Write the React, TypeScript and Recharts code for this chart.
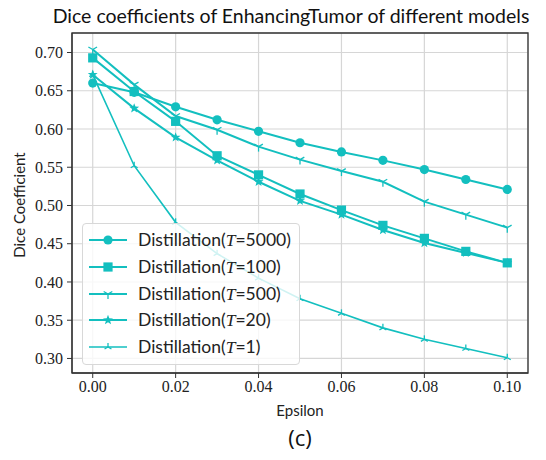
import { LineChart, Line, XAxis, YAxis, CartesianGrid, Legend, ReferenceArea } from 'recharts';

// epsilon values on the x axis
const epsilon = [0, 0.01, 0.02, 0.03, 0.04, 0.05, 0.06, 0.07, 0.08, 0.09, 0.1];

// dice coefficient for each distillation temperature
const t5000 = [0.660, 0.648, 0.629, 0.612, 0.597, 0.582, 0.570, 0.559, 0.547, 0.534, 0.521];
const t100 = [0.693, 0.649, 0.610, 0.565, 0.540, 0.515, 0.494, 0.474, 0.457, 0.440, 0.425];
const t500 = [0.704, 0.658, 0.617, 0.599, 0.577, 0.560, 0.545, 0.531, 0.505, 0.488, 0.471];
const t20 = [0.671, 0.627, 0.589, 0.559, 0.531, 0.506, 0.488, 0.468, 0.451, 0.438, 0.425];
const t1 = [0.671, 0.552, 0.478, 0.437, 0.405, 0.378, 0.359, 0.340, 0.325, 0.313, 0.301];

const xTicks = [0, 0.02, 0.04, 0.06, 0.08, 0.1];
const yTicks = [0.3, 0.35, 0.4, 0.45, 0.5, 0.55, 0.6, 0.65, 0.7];

const COLOR = '#13bfbf';

type Kind = 'circle' | 'square' | 'tri_down' | 'star' | 'tri_up';

const series: { key: string; temp: string; kind: Kind; values: number[]; width: number }[] = [
  { key: 't5000', temp: '5000', kind: 'circle', values: t5000, width: 2 },
  { key: 't100', temp: '100', kind: 'square', values: t100, width: 2 },
  { key: 't500', temp: '500', kind: 'tri_down', values: t500, width: 2 },
  { key: 't20', temp: '20', kind: 'star', values: t20, width: 2 },
  { key: 't1', temp: '1', kind: 'tri_up', values: t1, width: 1.6 },
];

const data = epsilon.map((e, i) => {
  const row: Record<string, number> = { eps: e };
  series.forEach((s) => (row[s.key] = s.values[i]));
  return row;
});

function Marker({ x, y, kind }: { x: number; y: number; kind: Kind }) {
  if (kind === 'circle') return <circle cx={x} cy={y} r={4.6} fill={COLOR} />;
  if (kind === 'square') return <rect x={x - 4.6} y={y - 4.6} width={9.2} height={9.2} fill={COLOR} />;
  if (kind === 'star') {
    const pts: string[] = [];
    for (let k = 0; k < 10; k++) {
      const r = k % 2 === 0 ? 5.2 : 2.2;
      const a = -Math.PI / 2 + (k * Math.PI) / 5;
      pts.push(`${x + r * Math.cos(a)},${y + r * Math.sin(a)}`);
    }
    return <polygon points={pts.join(' ')} fill={COLOR} />;
  }
  const s = kind === 'tri_down' ? 5 : 4;
  const dir = kind === 'tri_down' ? 1 : -1;
  return (
    <g stroke={COLOR} strokeWidth={1.3}>
      <line x1={x} y1={y} x2={x} y2={y + dir * s} />
      <line x1={x} y1={y} x2={x - s * 0.866} y2={y - dir * s * 0.5} />
      <line x1={x} y1={y} x2={x + s * 0.866} y2={y - dir * s * 0.5} />
    </g>
  );
}

function LegendBox() {
  return (
    <div
      style={{
        background: 'rgba(255,255,255,0.8)',
        border: '1px solid #d8d8d8',
        borderRadius: 4,
        padding: '3px 4px 4px 5px',
        width: 207,
      }}
    >
      {series.map((s) => (
        <div key={s.key} style={{ display: 'flex', alignItems: 'center', height: 26.7 }}>
          <svg width={50} height={14} style={{ flex: 'none' }}>
            <line x1={1} y1={7} x2={39} y2={7} stroke={COLOR} strokeWidth={s.width} />
            <Marker x={20} y={7} kind={s.kind} />
          </svg>
          <span style={{ fontFamily: 'Lato', fontSize: 17.5, color: '#222', whiteSpace: 'nowrap' }}>
            Distillation(<span style={{ fontFamily: 'Liberation Serif', fontStyle: 'italic' }}>T</span>={s.temp})
          </span>
        </div>
      ))}
    </div>
  );
}

const tickStyle = { fontFamily: 'Liberation Serif', fontSize: 16, fill: '#222' };

export default function App() {
  return (
    <div style={{ position: 'relative', width: 530, height: 444, fontFamily: 'Lato' }}>
      <div style={{ position: 'absolute', left: 13, top: -4, width: 540, textAlign: 'center', fontSize: 19.5, color: '#111', whiteSpace: 'nowrap' }}>
        Dice coefficients of EnhancingTumor of different models
      </div>
      <LineChart width={530} height={444} data={data} margin={{ top: 25, right: 10, bottom: 29, left: 0 }}>
        <CartesianGrid stroke="#d6d6d6" strokeWidth={1.2} />
        <XAxis
          dataKey="eps"
          type="number"
          domain={[-0.005, 0.105]}
          ticks={xTicks}
          tickFormatter={(v: number) => v.toFixed(2)}
          tick={tickStyle}
          tickSize={5}
          tickMargin={3}
          stroke="#333"
          height={50}
        />
        <YAxis
          type="number"
          domain={[0.281, 0.7255]}
          ticks={yTicks}
          tickFormatter={(v: number) => v.toFixed(2)}
          tick={tickStyle}
          tickSize={5}
          tickMargin={4}
          stroke="#333"
          width={64}
        />
        <ReferenceArea x1={-0.005} x2={0.105} y1={0.281} y2={0.7255} fill="none" stroke="#333" strokeWidth={1.3} />
        {series.map((s) => (
          <Line
            key={s.key}
            dataKey={s.key}
            stroke={COLOR}
            strokeWidth={s.width}
            isAnimationActive={false}
            dot={(p: any) => <Marker key={`${s.key}-${p.index}`} x={p.cx} y={p.cy} kind={s.kind} />}
          />
        ))}
        <Legend
          layout="vertical"
          align="center"
          verticalAlign="middle"
          content={() => <LegendBox />}
          wrapperStyle={{ left: 74, top: 215, width: 'auto' }}
        />
      </LineChart>
      <div style={{ position: 'absolute', left: 11, top: 197, transform: 'translate(-50%, -50%) rotate(-90deg)', fontSize: 15, color: '#222', whiteSpace: 'nowrap' }}>
        Dice Coefficient
      </div>
      <div style={{ position: 'absolute', left: 0, width: 584, top: 393, textAlign: 'center', fontSize: 15, color: '#222' }}>
        Epsilon
      </div>
      <div style={{ position: 'absolute', left: 0, width: 584, top: 414, textAlign: 'center', fontSize: 22, fontFamily: 'Open Sans', color: '#111' }}>
        (c)
      </div>
    </div>
  );
}
